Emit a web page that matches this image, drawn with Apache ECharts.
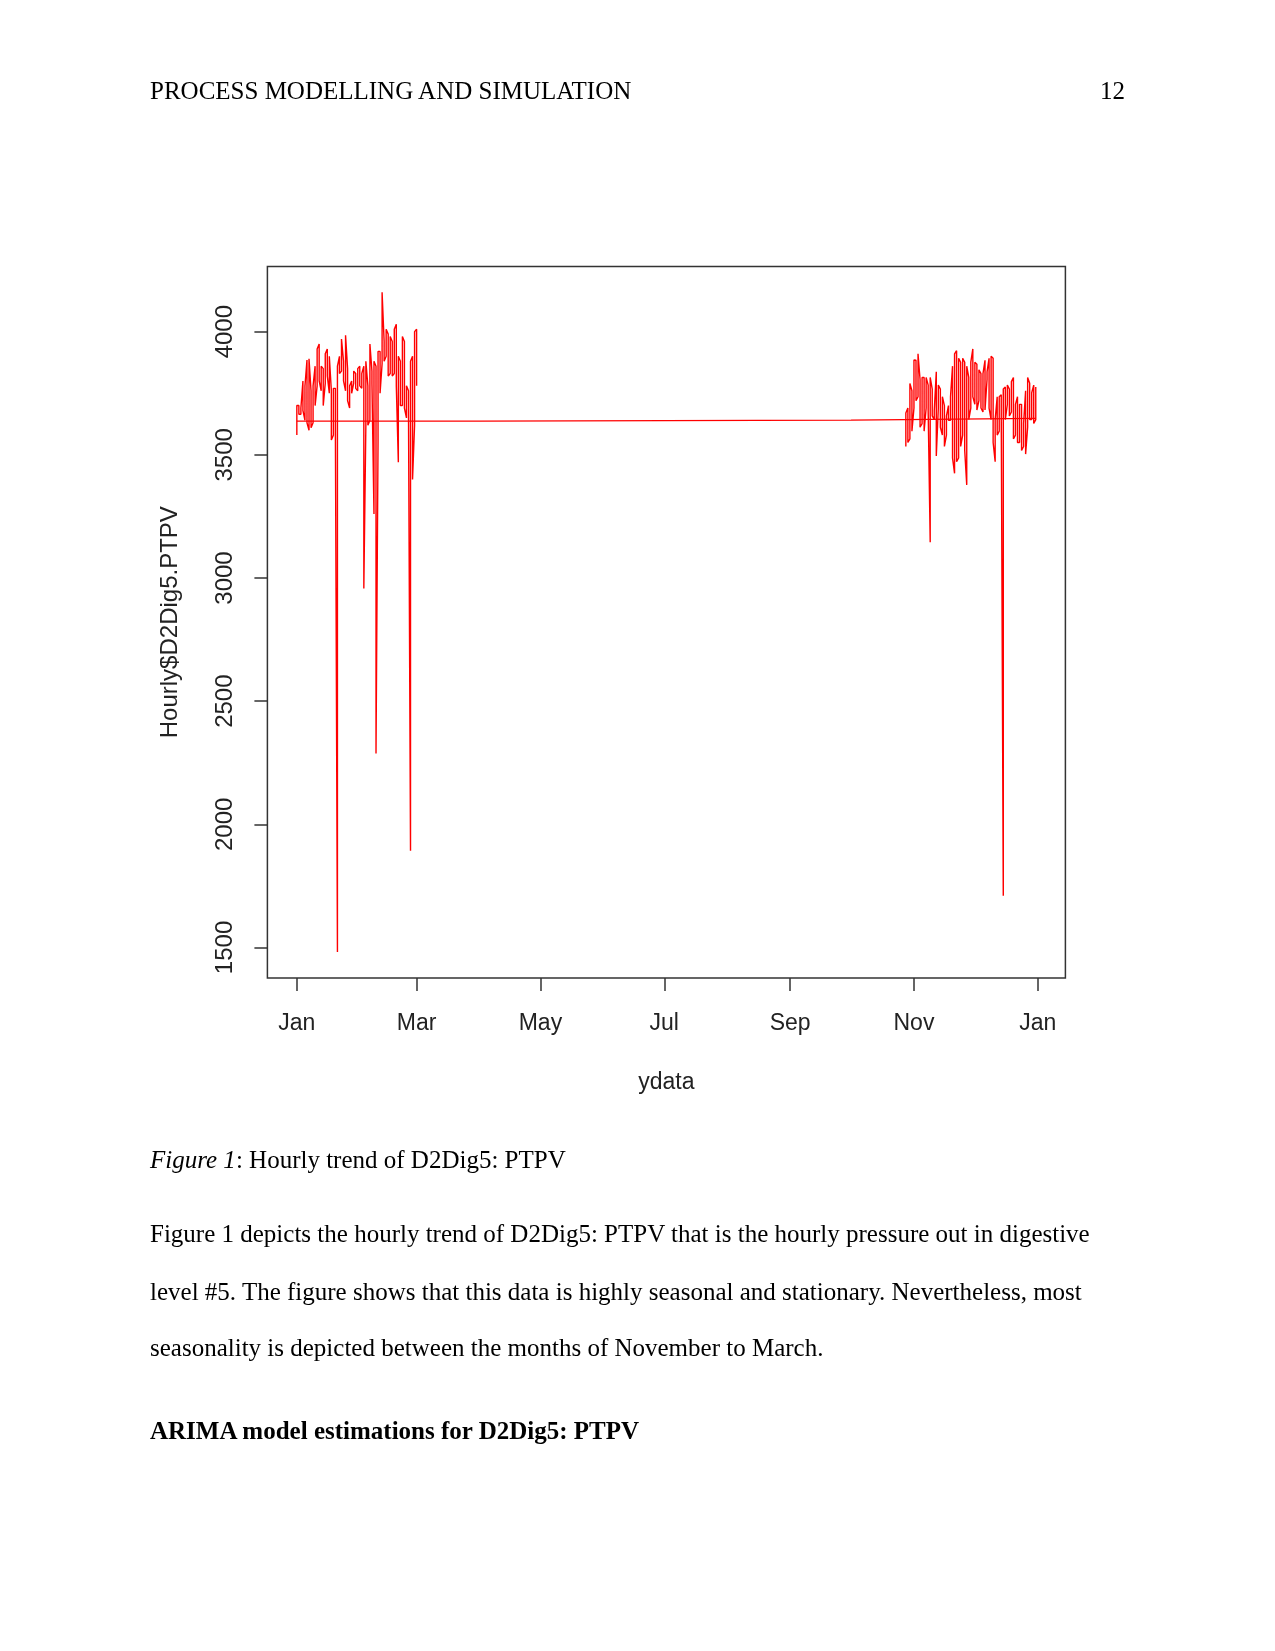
<!DOCTYPE html>
<html lang="en">
<head>
    <meta charset="UTF-8">
    <title>Hourly trend of D2Dig5: PTPV</title>
    <script src="https://cdn.jsdelivr.net/npm/echarts@6.0.0/dist/echarts.min.js"></script>
    <style>
        body {
            margin: 0;
            background-color: #fff;
        }

        .page {
            position: relative;
            width: 1275px;
            height: 1651px;
            overflow: hidden;
        }

        #chart {
            position: absolute;
            left: 0;
            top: 0;
            width: 1275px;
            height: 1651px;
        }

        .line {
            position: absolute;
            left: 150px;
            font-family: "Liberation Serif", "Times New Roman", serif;
            font-size: 25px;
            line-height: 30px;
            color: #000;
            white-space: nowrap;
        }
    </style>
</head>
<body>
<div class="page">
    <div id="chart"></div>

    <div class="line" style="top: 76px;">PROCESS MODELLING AND SIMULATION</div>
    <div class="line" style="top: 76px; left: auto; right: 150px;">12</div>

    <div class="line" style="top: 1145px;"><i>Figure 1</i>: Hourly trend of D2Dig5: PTPV</div>

    <div class="line" style="top: 1219px;">Figure 1 depicts the hourly trend of D2Dig5: PTPV that is the hourly pressure out in digestive</div>
    <div class="line" style="top: 1277px;">level #5. The figure shows that this data is highly seasonal and stationary. Nevertheless, most</div>
    <div class="line" style="top: 1333px;">seasonality is depicted between the months of November to March.</div>

    <div class="line" style="top: 1416px; font-weight: bold;">ARIMA model estimations for D2Dig5: PTPV</div>
</div>

<script>
    // x axis is in days since 1 Jan
    const monthTickDays = [0, 59, 120, 181, 243, 304, 365];
    const monthTickLabels = ['Jan', 'Mar', 'May', 'Jul', 'Sep', 'Nov', 'Jan'];
    const yTickValues = [1500, 2000, 2500, 3000, 3500, 4000];

    // flat line that runs across the whole year
    const baseDays = [0, 90, 90, 273, 273, 364];
    const baseVals = [3637, 3637, 3641, 3641, 3648, 3648];

    // daily low / high of the hourly readings, Jan - end of Feb
    const janMarStart = 0;
    const janMarLow = [
        3580, 3665, 3665, 3680, 3640, 3630, 3600, 3610, 3630, 3700,
        3780, 3800, 3760, 3700, 3790, 3820, 3750, 3560, 3580, 3590,
        1482, 3830, 3840, 3800, 3760, 3720, 3690, 3750, 3790, 3770,
        3760, 3780, 3770, 2957, 3620, 3620, 3640, 3790, 3260, 2287,
        3550, 3750, 3870, 3880, 3900, 3820, 3830, 3820, 3830, 3780,
        3470, 3700, 3700, 3690, 3650, 3680, 1893, 3400, 3620, 3780
    ];
    const janMarHigh = [
        3700, 3700, 3690, 3800, 3780, 3885, 3890, 3760, 3780, 3860,
        3930, 3950, 3860, 3850, 3910, 3930, 3900, 3760, 3770, 3770,
        3860, 3900, 3970, 3880, 3985, 3850, 3780, 3800, 3840, 3830,
        3850, 3860, 3830, 3860, 3880, 3780, 3950, 3840, 3880, 3860,
        3920, 3920, 4160, 3960, 4010, 3990, 3980, 3960, 4010, 4030,
        3900, 3880, 3980, 3960, 3780, 3760, 3880, 3900, 4000, 4010
    ];

    // daily low / high, end of Oct - Dec
    const novDecStart = 300;
    const novDecLow = [
        3534, 3550, 3565, 3596, 3690, 3720, 3736, 3612, 3627, 3596,
        3690, 3680, 3145, 3658, 3643, 3495, 3690, 3612, 3580, 3534,
        3580, 3640, 3640, 3487, 3425, 3472, 3487, 3534, 3580, 3518,
        3378, 3643, 3690, 3736, 3705, 3682, 3720, 3690, 3674, 3682,
        3806, 3690, 3643, 3550, 3472, 3580, 3596, 3658, 1710, 3643,
        3705, 3658, 3674, 3565, 3580, 3550, 3550, 3518, 3534, 3503,
        3612, 3643, 3643, 3627, 3643
    ];
    const novDecHigh = [
        3670, 3690, 3790, 3760, 3885, 3884, 3910, 3806, 3814, 3814,
        3814, 3783, 3814, 3767, 3680, 3837, 3783, 3767, 3736, 3700,
        3658, 3700, 3736, 3860, 3910, 3923, 3892, 3876, 3892, 3876,
        3860, 3814, 3876, 3930, 3876, 3868, 3845, 3830, 3830, 3884,
        3837, 3892, 3900, 3892, 3643, 3736, 3736, 3744, 3767, 3775,
        3783, 3767, 3797, 3814, 3705, 3736, 3705, 3705, 3627, 3760,
        3814, 3791, 3752, 3783, 3775
    ];

    // each day is a vertical run from low to high (or back), like R's type="l" on daily x
    function buildPath(start, lows, highs) {
        const pts = [];
        lows.forEach((lo, i) => {
            const d = start + i;
            if (i % 2 === 0) {
                pts.push([d, lo], [d, highs[i]]);
            } else {
                pts.push([d, highs[i]], [d, lo]);
            }
        });
        return pts;
    }

    const basePath = baseDays.map((d, i) => [d, baseVals[i]]);
    const janMarPath = buildPath(janMarStart, janMarLow, janMarHigh);
    const novDecPath = buildPath(novDecStart, novDecLow, novDecHigh);

    const axisFont = 'Liberation Sans, Arial, sans-serif';
    const red = '#ff0000';

    const chart = echarts.init(document.getElementById('chart'));
    chart.setOption({
        animation: false,
        grid: {
            left: 267.4,
            top: 266.4,
            width: 798,
            height: 711.6,
            show: true,
            borderColor: '#333',
            borderWidth: 1.5
        },
        xAxis: {
            type: 'value',
            min: -14.5,
            max: 378.6,
            name: 'ydata',
            nameLocation: 'middle',
            nameGap: 93,
            nameMoveOverlap: false,
            nameTextStyle: { fontFamily: axisFont, fontSize: 23, color: '#222' },
            axisLine: { show: false, onZero: false },
            axisTick: {
                show: true,
                length: 13,
                customValues: monthTickDays,
                lineStyle: { color: '#333', width: 1.5 }
            },
            axisLabel: {
                customValues: monthTickDays,
                margin: 34,
                fontFamily: axisFont,
                fontSize: 23,
                color: '#222',
                formatter: function (v) {
                    const i = monthTickDays.indexOf(v);
                    return i >= 0 ? monthTickLabels[i] : '';
                }
            },
            splitLine: { show: false }
        },
        yAxis: {
            type: 'value',
            min: 1376,
            max: 4265,
            name: 'Hourly$D2Dig5.PTPV',
            nameLocation: 'middle',
            nameRotate: 90,
            nameGap: 85,
            nameMoveOverlap: false,
            nameTextStyle: { fontFamily: axisFont, fontSize: 24, color: '#222' },
            axisLine: { show: false, onZero: false },
            axisTick: {
                show: true,
                length: 13,
                customValues: yTickValues,
                lineStyle: { color: '#333', width: 1.5 }
            },
            axisLabel: {
                customValues: yTickValues,
                rotate: 90,
                margin: 30,
                fontFamily: axisFont,
                fontSize: 24,
                color: '#222',
                formatter: function (v) {
                    return String(v);
                }
            },
            splitLine: { show: false }
        },
        series: [
            {
                type: 'line',
                data: basePath,
                showSymbol: false,
                silent: true,
                lineStyle: { color: red, width: 1.3 }
            },
            {
                type: 'line',
                data: janMarPath,
                showSymbol: false,
                silent: true,
                lineStyle: { color: red, width: 1.4 }
            },
            {
                type: 'line',
                data: novDecPath,
                showSymbol: false,
                silent: true,
                lineStyle: { color: red, width: 1.4 }
            }
        ]
    });
</script>
</body>
</html>
